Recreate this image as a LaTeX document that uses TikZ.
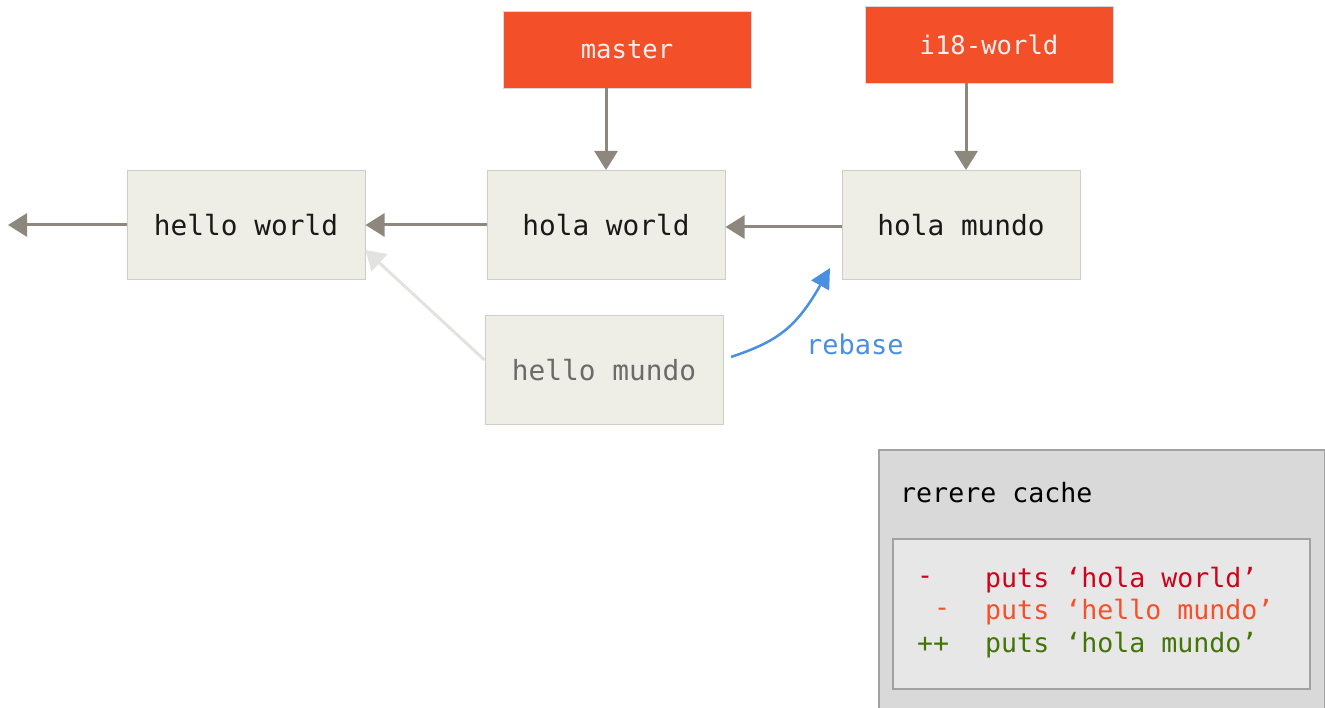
\documentclass[tikz,border=0pt]{standalone}
\usepackage{fontspec}
\setmonofont{DejaVu Sans Mono}
\usetikzlibrary{arrows.meta}
\definecolor{commitfill}{HTML}{EEEDE6}
\definecolor{commitline}{HTML}{CFCEC6}
\definecolor{branchfill}{HTML}{F34F29}
\definecolor{arrowgray}{HTML}{8E877E}
\definecolor{lightarrow}{HTML}{E2E2E0}
\definecolor{rebaseblue}{HTML}{4A8FE0}
\definecolor{cacheouter}{HTML}{D9D9D9}
\definecolor{cacheinner}{HTML}{E7E7E7}
\definecolor{cacheline}{HTML}{A2A2A2}
\definecolor{linered}{HTML}{D0021B}
\definecolor{lineorange}{HTML}{F4502A}
\definecolor{linegreen}{HTML}{417505}
\tikzset{
  commit/.style={draw=commitline, line width=1pt, fill=commitfill, minimum width=238pt, minimum height=109pt, inner sep=0pt, font=\ttfamily\fontsize{27.8}{30}\selectfont, text=black!90},
  branch/.style={draw=white!85!black, line width=0.8pt, fill=branchfill, minimum width=248pt, minimum height=77pt, inner sep=0pt, font=\ttfamily\fontsize{25.6}{28}\selectfont, text=white!94!black},
  link/.style={draw=arrowgray, line width=3pt, -{Triangle[length=19pt,width=23pt]}},
  ghostlink/.style={draw=lightarrow, line width=3pt, -{Triangle[length=19pt,width=23pt]}},
  rebaselink/.style={draw=rebaseblue, line width=2.5pt, -{Triangle[length=20pt,width=20pt]}},
  cachetext/.style={anchor=west, inner sep=0pt, font=\ttfamily\fontsize{26.6}{30}\selectfont},
}
\begin{document}
\begin{tikzpicture}[x=1pt,y=-1pt]
\useasboundingbox (0,0) rectangle (1325,708);
% commits
\node[commit] (hw) at (246,225) {hello world};
\node[commit] (holaw) at (606,225) {hola world};
\node[commit] (holam) at (961,225) {hola mundo};
\node[commit, text=black!58] (hellom) at (604,370) {hello mundo};
% branches
\node[branch] (master) at (627,49.5) {master};
\node[branch] (i18) at (989,44.5) {i18-world};
% free ends
\coordinate (leftend) at (8,225);
\coordinate (rbstart) at (731,357);
\coordinate (rbtip) at (830,268);
% arrows
\draw[link] (hw.west) -- (leftend);
\draw[link] (holaw.west) -- (hw.east);
\draw[link] (holam.west |- 0,227) -- (holaw.east |- 0,227);
\draw[link] (master.south -| holaw.north) -- (holaw.north);
\draw[link] (i18.south -| 966,0) -- (holam.north -| 966,0);
\draw[ghostlink] (hellom.west |- 0,360) -- (hw.east |- 0,250);
\draw[rebaselink] (rbstart) .. controls (775,342) and (795,330) .. (rbtip);
\node[anchor=west, inner sep=0pt, text=rebaseblue, font=\ttfamily\fontsize{27}{30}\selectfont] (rebase) at (806,344) {rebase};
% rerere cache
\node[draw=cacheline, line width=2pt, fill=cacheouter, anchor=north west, minimum width=446pt, minimum height=280pt, inner sep=0pt] (cache) at (878,449) {};
\node[cachetext, text=black] (cachetitle) at (900,493) {rerere cache};
\node[draw=cacheline, line width=2pt, fill=cacheinner, anchor=north west, minimum width=417pt, minimum height=150pt, inner sep=0pt] (inner) at (892,538) {};
\node[cachetext, text=linered] (p1) at (917,580) {-};
\node[cachetext, text=linered] (l1) at (985,580) {puts ‘hola world’};
\node[cachetext, text=lineorange] (p2) at (934,612) {-};
\node[cachetext, text=lineorange] (l2) at (985,612) {puts ‘hello mundo’};
\node[cachetext, text=linegreen] (p3) at (917,645) {++};
\node[cachetext, text=linegreen] (l3) at (985,645) {puts ‘hola mundo’};
\end{tikzpicture}
\end{document}
